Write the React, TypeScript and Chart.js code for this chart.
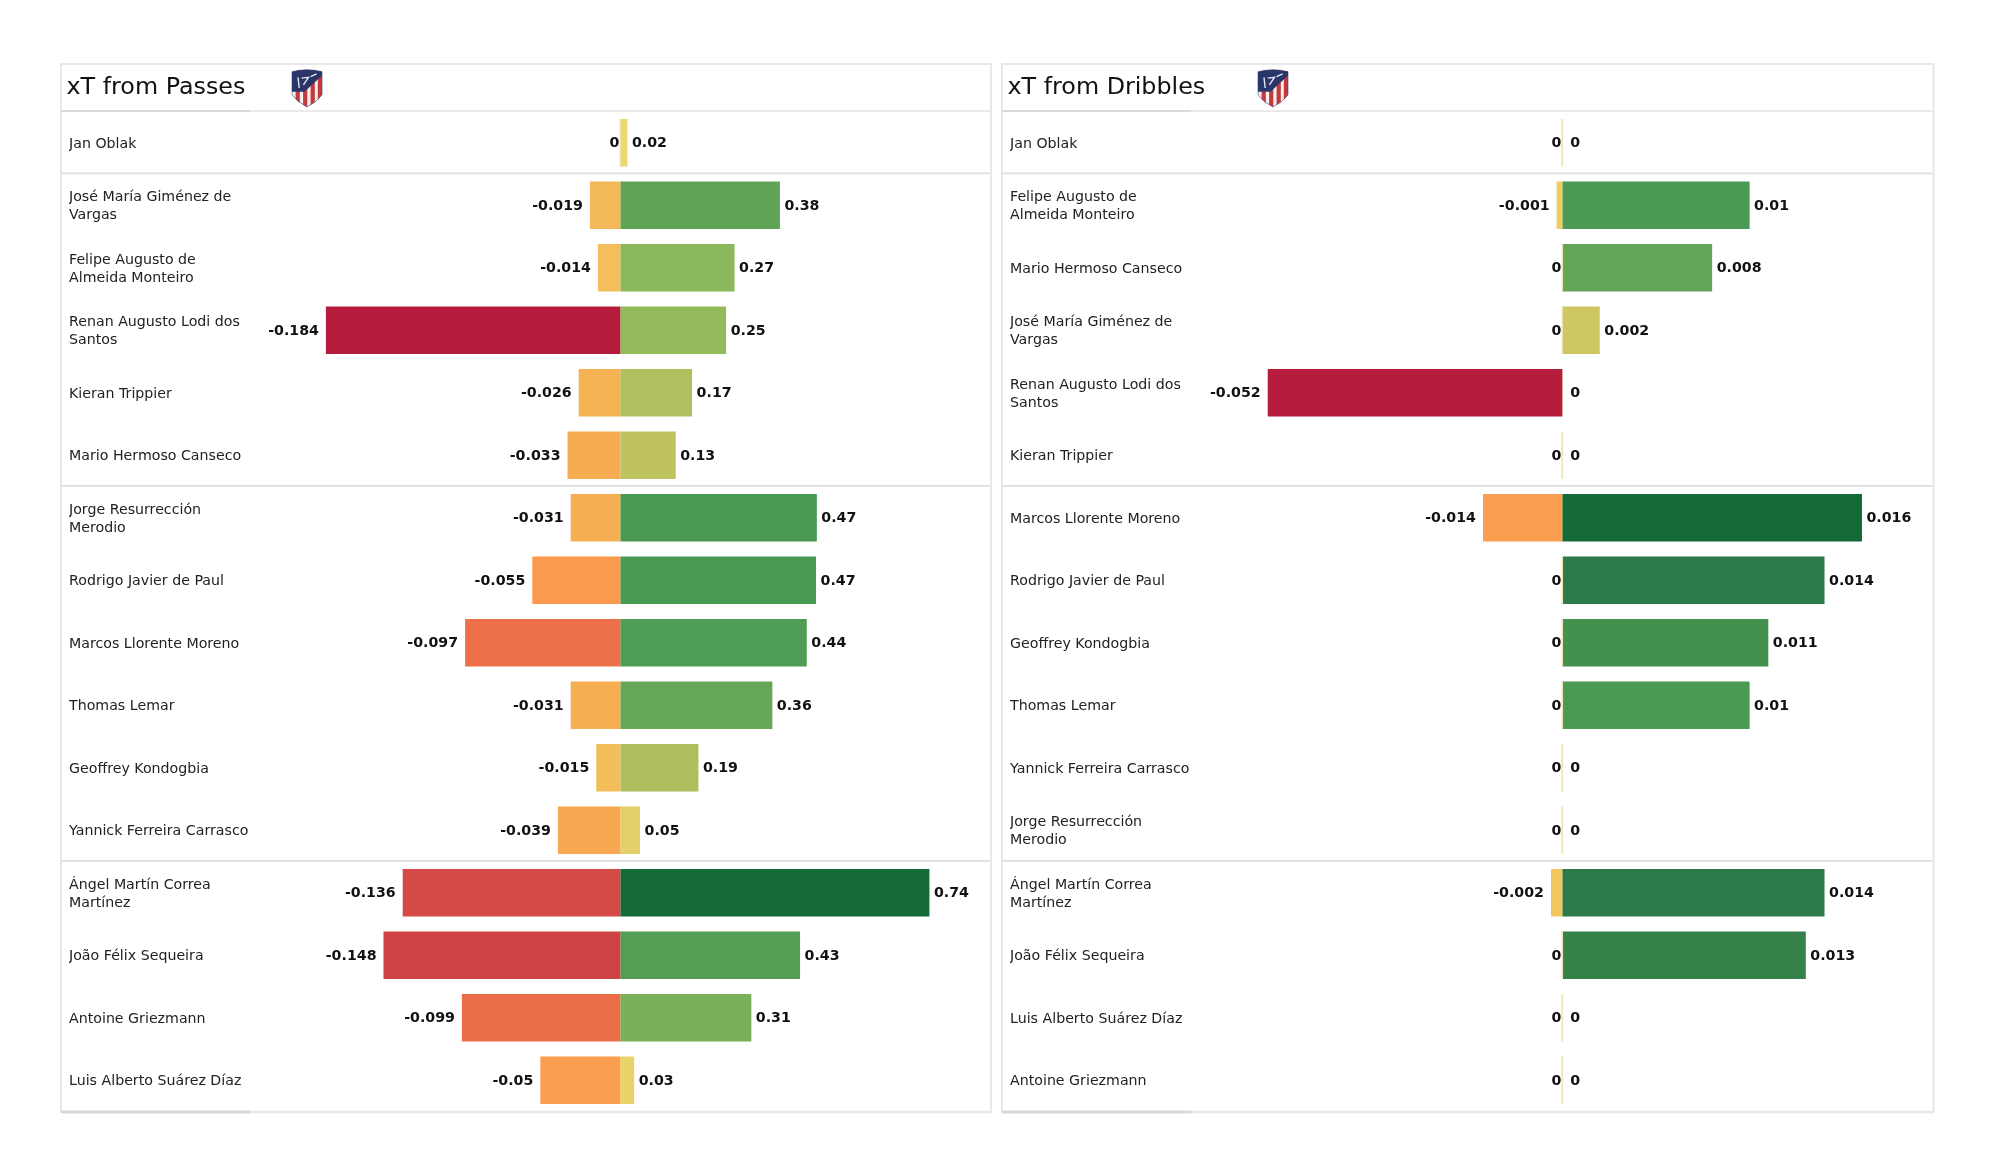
import React, { useEffect, useRef } from "react";
import { Chart, registerables } from "chart.js";

Chart.register(...registerables);

const passesPlayers = [
  ["Jan Oblak"],
  ["José María Giménez de", "Vargas"],
  ["Felipe Augusto de", "Almeida Monteiro"],
  ["Renan Augusto Lodi dos", "Santos"],
  ["Kieran Trippier"],
  ["Mario Hermoso Canseco"],
  ["Jorge Resurrección", "Merodio"],
  ["Rodrigo Javier de Paul"],
  ["Marcos Llorente Moreno"],
  ["Thomas Lemar"],
  ["Geoffrey Kondogbia"],
  ["Yannick Ferreira Carrasco"],
  ["Ángel Martín Correa", "Martínez"],
  ["João Félix Sequeira"],
  ["Antoine Griezmann"],
  ["Luis Alberto Suárez Díaz"],
];
const passesNegative = [0, -0.019, -0.014, -0.184, -0.026, -0.033, -0.031, -0.055, -0.097, -0.031, -0.015, -0.039, -0.136, -0.148, -0.099, -0.05];
const passesPositive = [0.017, 0.38, 0.272, 0.252, 0.171, 0.132, 0.468, 0.466, 0.444, 0.362, 0.186, 0.047, 0.736, 0.428, 0.312, 0.033];

const dribblesPlayers = [
  ["Jan Oblak"],
  ["Felipe Augusto de", "Almeida Monteiro"],
  ["Mario Hermoso Canseco"],
  ["José María Giménez de", "Vargas"],
  ["Renan Augusto Lodi dos", "Santos"],
  ["Kieran Trippier"],
  ["Marcos Llorente Moreno"],
  ["Rodrigo Javier de Paul"],
  ["Geoffrey Kondogbia"],
  ["Thomas Lemar"],
  ["Yannick Ferreira Carrasco"],
  ["Jorge Resurrección", "Merodio"],
  ["Ángel Martín Correa", "Martínez"],
  ["João Félix Sequeira"],
  ["Luis Alberto Suárez Díaz"],
  ["Antoine Griezmann"],
];
const dribblesNegative = [0, -0.001, 0, 0, -0.052, 0, -0.014, 0, 0, 0, 0, 0, -0.002, 0, 0, 0];
const dribblesPositive = [0, 0.01, 0.008, 0.002, 0, 0, 0.016, 0.014, 0.011, 0.01, 0, 0, 0.014, 0.013, 0, 0];

const sectionEnds = [0, 5, 11];

const positiveStops: [number, string][] = [
  [0, "#efe4b4"], [0.005, "#f3da6c"], [0.064, "#e4cf68"], [0.125, "#cdc662"], [0.18, "#bec25f"],
  [0.25, "#aebe5e"], [0.36, "#8eb95a"], [0.5, "#62a557"], [0.63, "#4a9a53"], [0.6875, "#44914f"],
  [0.81, "#34824a"], [0.875, "#2c7a47"], [1, "#146b37"],
];
const negativeStops: [number, string][] = [
  [0, "#efe4b4"], [0.005, "#f0d066"], [0.038, "#f2c75e"], [0.076, "#f3be5b"], [0.14, "#f4b253"],
  [0.21, "#f8a850"], [0.3, "#fb994f"], [0.54, "#ec6e49"], [0.74, "#d44a47"], [0.8, "#d04344"], [1, "#b61c3e"],
];

const FONT = '"DejaVu Sans", sans-serif';
const CANVAS_W = 1000;
const CANVAS_H = 1175;
const FRAME = { left: 61, top: 64, header: 111, bottom: 1112 };
const PLOT = { left: 269, right: 985, top: 111.5, bottom: 1111.5 };
const TEXT_SHIFT = 1.2;

function hex(c: string) {
  return [1, 3, 5].map((i) => parseInt(c.slice(i, i + 2), 16));
}
function colormap(stops: [number, string][], t: number) {
  for (let i = 1; i < stops.length; i++) {
    if (t <= stops[i][0]) {
      const [t0, c0] = stops[i - 1];
      const [t1, c1] = stops[i];
      const f = (t - t0) / (t1 - t0);
      const a = hex(c0);
      const b = hex(c1);
      return `rgb(${a.map((v, k) => Math.round(v + (b[k] - v) * f)).join(",")})`;
    }
  }
  return stops[stops.length - 1][1];
}

function drawCrest(ctx: CanvasRenderingContext2D, x: number, y: number, w: number, h: number) {
  const shield = new Path2D();
  shield.moveTo(x, y + h * 0.07);
  shield.quadraticCurveTo(x + w * 0.5, y - h * 0.03, x + w, y + h * 0.07);
  shield.lineTo(x + w, y + h * 0.68);
  shield.quadraticCurveTo(x + w * 0.85, y + h * 0.86, x + w * 0.5, y + h);
  shield.quadraticCurveTo(x + w * 0.15, y + h * 0.86, x, y + h * 0.68);
  shield.closePath();
  ctx.save();
  ctx.clip(shield);
  ctx.fillStyle = "#f4efee";
  ctx.fillRect(x, y, w, h);
  ctx.fillStyle = "#c23a3c";
  [0.12, 0.37, 0.62, 0.86].forEach((s) => ctx.fillRect(x + w * s, y, w * 0.14, h));
  ctx.fillStyle = "#2a3569";
  ctx.beginPath();
  ctx.moveTo(x, y);
  ctx.lineTo(x + w, y);
  ctx.lineTo(x + w, y + h * 0.17);
  ctx.lineTo(x + w * 0.42, y + h * 0.6);
  ctx.lineTo(x, y + h * 0.6);
  ctx.closePath();
  ctx.fill();
  ctx.strokeStyle = "#e6e6ee";
  ctx.lineWidth = 1.4;
  ctx.beginPath();
  ctx.moveTo(x + w * 0.2, y + h * 0.22);
  ctx.lineTo(x + w * 0.24, y + h * 0.5);
  ctx.moveTo(x + w * 0.32, y + h * 0.24);
  ctx.lineTo(x + w * 0.55, y + h * 0.22);
  ctx.lineTo(x + w * 0.38, y + h * 0.42);
  ctx.moveTo(x + w * 0.62, y + h * 0.2);
  ctx.lineTo(x + w * 0.82, y + h * 0.13);
  ctx.stroke();
  ctx.restore();
  ctx.strokeStyle = "rgba(50,55,100,0.55)";
  ctx.lineWidth = 1;
  ctx.stroke(shield);
}

function drawPanel(chart: any, title: string, crestX: number, frameRight: number) {
  const ctx = chart.ctx;
  const y = chart.scales.y;
  ctx.save();
  ctx.strokeStyle = "#e3e3e3";
  ctx.lineWidth = 1.6;
  ctx.strokeRect(FRAME.left, FRAME.top, frameRight - FRAME.left, FRAME.bottom - FRAME.top);
  const hline = (yy: number, x0: number, x1: number, col: string, lw: number) => {
    ctx.strokeStyle = col;
    ctx.lineWidth = lw;
    ctx.beginPath();
    ctx.moveTo(x0, yy);
    ctx.lineTo(x1, yy);
    ctx.stroke();
  };
  hline(FRAME.header, FRAME.left, frameRight, "#e3e3e3", 1.4);
  hline(FRAME.header, FRAME.left, 250, "#d9d9d9", 2);
  hline(FRAME.bottom, FRAME.left, frameRight, "#e6e6e6", 2.4);
  hline(FRAME.bottom, FRAME.left, 250, "#d6d6d6", 2.4);
  sectionEnds.forEach((i) => {
    const yy = (y.getPixelForTick(i) + y.getPixelForTick(i + 1)) / 2 - 0.6;
    hline(yy, FRAME.left, frameRight - 1, "#dedede", 1.6);
  });
  ctx.fillStyle = "#111";
  ctx.font = `23.8px ${FONT}`;
  ctx.textAlign = "left";
  ctx.textBaseline = "alphabetic";
  ctx.fillText(title, 66.5, 94.3);
  drawCrest(ctx, crestX, 69, 30, 38);
  ctx.restore();
}

function drawBarLabels(chart: any, digits: number) {
  const ctx = chart.ctx;
  ctx.save();
  ctx.fillStyle = "#111";
  ctx.font = `bold 14.2px ${FONT}`;
  ctx.textBaseline = "middle";
  const zero = chart.scales.xPos.getPixelForValue(0);
  chart.data.datasets.forEach((ds: any, di: number) => {
    const meta = chart.getDatasetMeta(di);
    ds.data.forEach((v: number, i: number) => {
      const bar = meta.data[i];
      const text = String(Number(v.toFixed(di === 0 ? 3 : digits)));
      if (di === 0) {
        ctx.textAlign = "right";
        ctx.fillText(text, v === 0 ? zero - 1 : bar.x - 7, bar.y + 0.7);
      } else {
        ctx.textAlign = "left";
        ctx.fillText(text, v === 0 ? zero + 8 : bar.x + 4.5, bar.y + 0.7);
      }
    });
  });
  ctx.restore();
}

function shiftTickText(scale: any) {
  if (scale.__shifted) return;
  scale.__shifted = true;
  const original = scale._computeLabelItems;
  scale._computeLabelItems = function (area: any) {
    return original.call(this, area).map((item: any) => ({ ...item, textOffset: item.textOffset + TEXT_SHIFT }));
  };
}

interface PanelProps {
  title: string;
  players: string[][];
  negative: number[];
  positive: number[];
  digits: number;
  zeroX: number;
  negPx: number;
  posPx: number;
  crestX: number;
  frameRight: number;
  left: number;
}

function Panel({ title, players, negative, positive, digits, zeroX, negPx, posPx, crestX, frameRight, left }: PanelProps) {
  const ref = useRef<HTMLCanvasElement>(null);
  useEffect(() => {
    const negMax = Math.max(...negative.map(Math.abs));
    const posMax = Math.max(...positive);
    const range = (px: number) => ({
      min: (PLOT.left - zeroX) / px,
      max: (PLOT.right - zeroX) / px,
    });
    const barStyle = {
      barPercentage: 0.757,
      categoryPercentage: 1,
      grouped: false,
      borderWidth: 0,
      minBarLength: 1.5,
    };
    const chart = new Chart(ref.current!, {
      type: "bar",
      data: {
        labels: players,
        datasets: [
          {
            data: negative,
            xAxisID: "xNeg",
            backgroundColor: negative.map((v) => colormap(negativeStops, Math.abs(v) / negMax)),
            ...barStyle,
          },
          {
            data: positive,
            xAxisID: "xPos",
            backgroundColor: positive.map((v) => colormap(positiveStops, v / posMax)),
            ...barStyle,
          },
        ],
      } as any,
      options: {
        indexAxis: "y",
        animation: false,
        responsive: false,
        layout: {
          padding: {
            left: 69,
            right: CANVAS_W - PLOT.right,
            top: PLOT.top,
            bottom: CANVAS_H - PLOT.bottom,
          },
        },
        plugins: { legend: { display: false }, tooltip: { enabled: false }, title: { display: false } },
        scales: {
          xNeg: { type: "linear", display: false, position: "bottom", ...range(negPx) },
          xPos: { type: "linear", display: false, position: "bottom", ...range(posPx) },
          y: {
            type: "category",
            grid: { display: false },
            border: { display: false },
            beforeUpdate: shiftTickText,
            afterFit: (s: any) => {
              s.width = PLOT.left - 69;
            },
            ticks: {
              autoSkip: false,
              crossAlign: "far",
              padding: 0,
              color: "#222",
              font: { family: FONT, size: 14.2, lineHeight: 1.25 },
            },
          },
        },
      } as any,
      plugins: [
        {
          id: "panelDecor",
          beforeDraw: (c: any) => drawPanel(c, title, crestX, frameRight),
          afterDatasetsDraw: (c: any) => drawBarLabels(c, digits),
        },
      ],
    });
    return () => chart.destroy();
  }, []);
  return (
    <canvas
      ref={ref}
      width={CANVAS_W}
      height={CANVAS_H}
      style={{ position: "absolute", left, top: 0, width: CANVAS_W, height: CANVAS_H }}
    />
  );
}

export default function App() {
  return (
    <div style={{ position: "absolute", left: 0, top: 0, width: 2000, height: 1175, overflow: "hidden", background: "#fff" }}>
      <Panel
        title="xT from Passes"
        players={passesPlayers}
        negative={passesNegative}
        positive={passesPositive}
        digits={2}
        zeroX={620.3}
        negPx={1600}
        posPx={420}
        crestX={292}
        frameRight={991}
        left={0}
      />
      <Panel
        title="xT from Dribbles"
        players={dribblesPlayers}
        negative={dribblesNegative}
        positive={dribblesPositive}
        digits={3}
        zeroX={621.3}
        negPx={5665}
        posPx={18730}
        crestX={317}
        frameRight={992.5}
        left={941}
      />
    </div>
  );
}
